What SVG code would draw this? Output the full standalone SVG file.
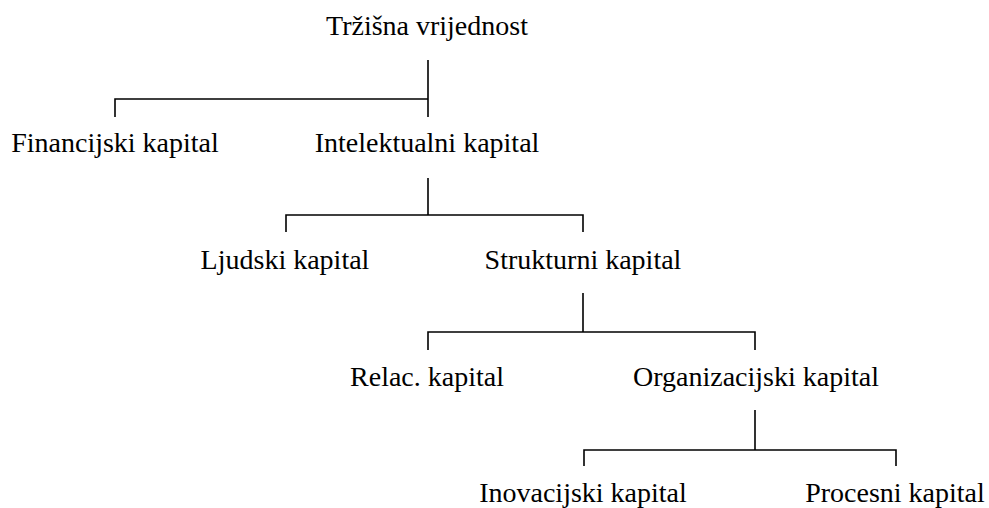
<svg xmlns="http://www.w3.org/2000/svg" width="989" height="508" viewBox="0 0 989 508">
<style>
text{font-family:"Liberation Serif","Times New Roman",serif;font-size:28px;fill:#000;text-anchor:middle}
.c path{fill:none;stroke:#000;stroke-width:1.6}
</style>
<rect width="989" height="508" fill="#fff"/>
<g class="c" id="connectors">
<path d="M428 60V117M115 117V99H428"/>
<path d="M428 178V215M286 232V215H583V232"/>
<path d="M583 293V332M428 350V332H755V350"/>
<path d="M755 410V450M584 466V450H896V466"/>
</g>
<g id="n-trzisna"><text x="427" y="35">Tržišna vrijednost</text></g>
<g id="n-financijski"><text x="115" y="152">Financijski kapital</text></g>
<g id="n-intelektualni"><text x="427" y="152">Intelektualni kapital</text></g>
<g id="n-ljudski"><text x="285" y="269">Ljudski kapital</text></g>
<g id="n-strukturni"><text x="583" y="269">Strukturni kapital</text></g>
<g id="n-relac"><text x="427" y="386">Relac. kapital</text></g>
<g id="n-organizacijski"><text x="756" y="386">Organizacijski kapital</text></g>
<g id="n-inovacijski"><text x="583" y="502">Inovacijski kapital</text></g>
<g id="n-procesni"><text x="895" y="502">Procesni kapital</text></g>
</svg>
